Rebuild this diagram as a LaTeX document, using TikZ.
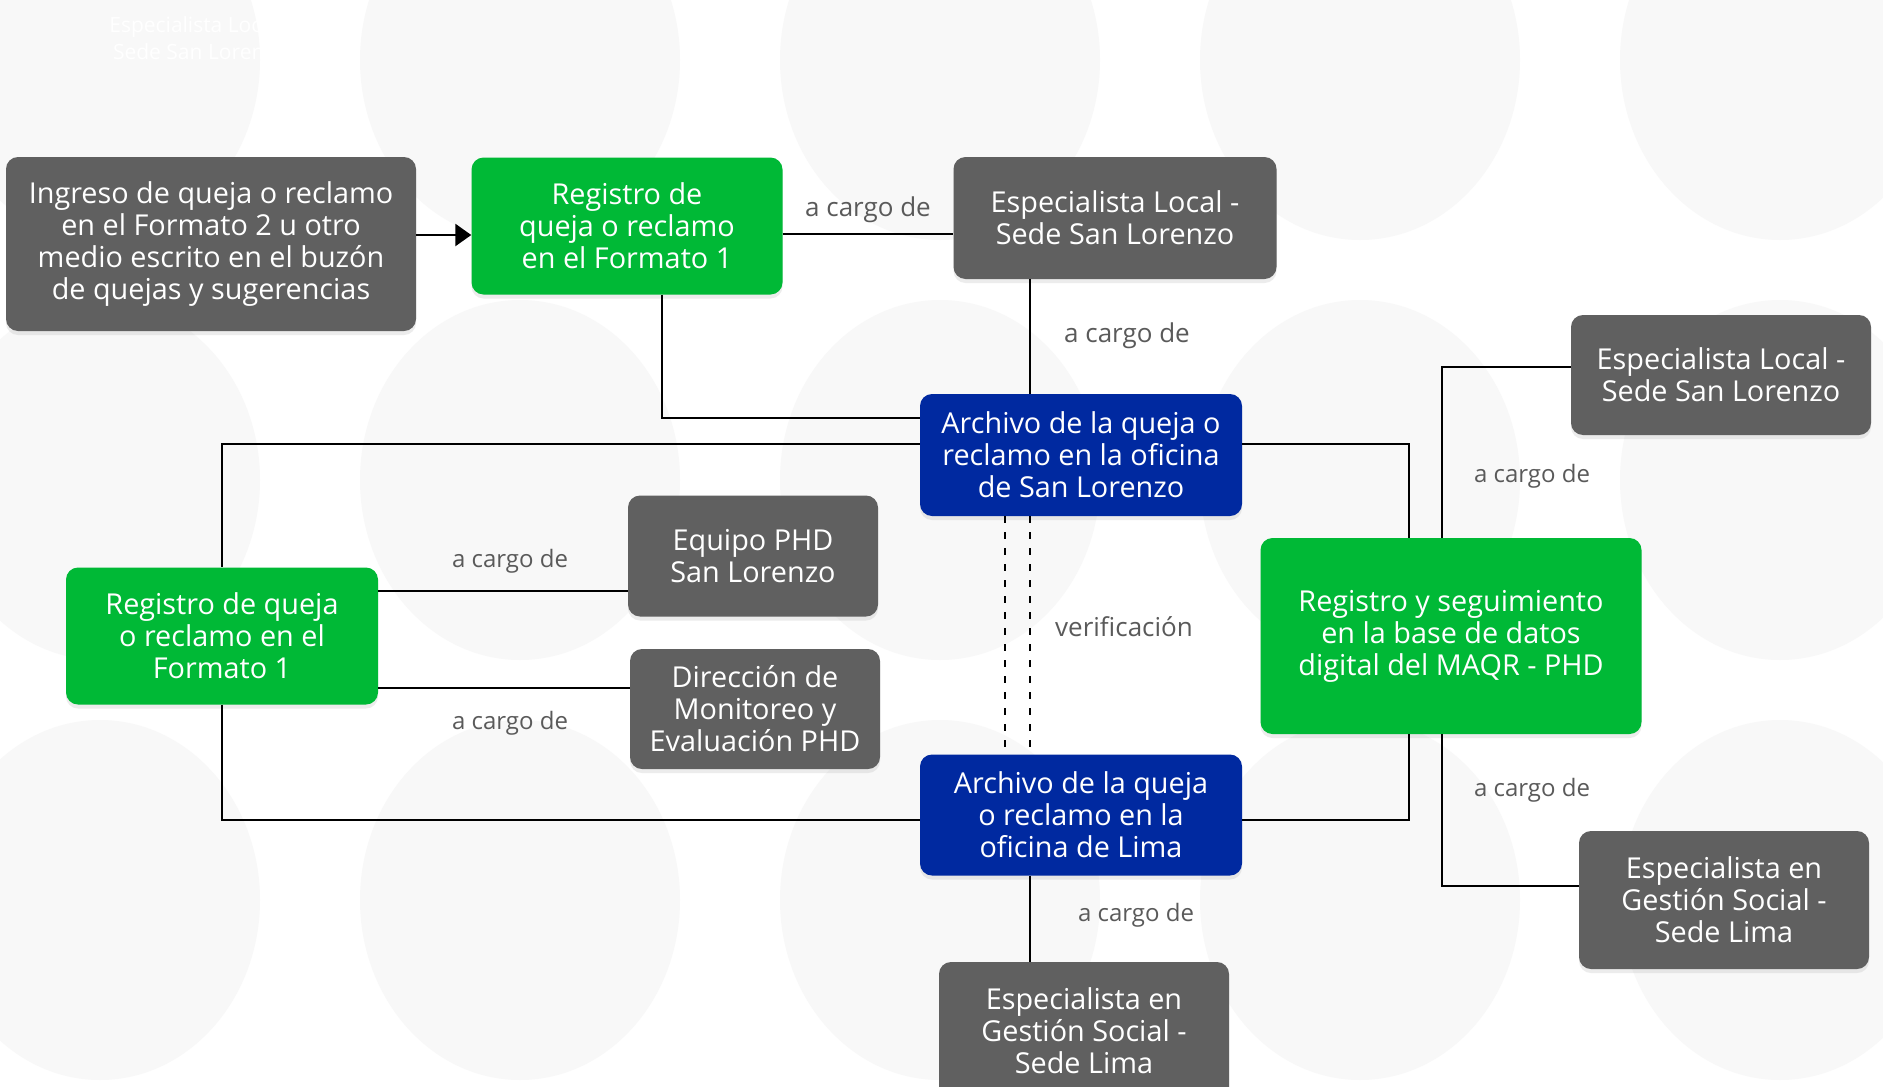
\documentclass[tikz,border=0pt]{standalone}
\usepackage{fontspec}
\setmainfont{Open Sans}
\usetikzlibrary{arrows.meta,shadows}
\definecolor{boxgray}{RGB}{96,96,96}
\definecolor{boxgreen}{RGB}{0,185,54}
\definecolor{boxblue}{RGB}{0,41,160}
\definecolor{labelgray}{RGB}{90,90,90}
\definecolor{bggray}{RGB}{248,248,248}
\begin{document}
\begin{tikzpicture}[x=1pt, y=-1pt,
    box/.style={rounded corners=12pt, text=white, align=center, inner sep=0pt,
        font=\fontsize{28.8}{32}\selectfont,
        drop shadow={shadow xshift=0pt, shadow yshift=-4pt, opacity=0.15}},
    graybox/.style={box, fill=boxgray},
    greenbox/.style={box, fill=boxgreen},
    bluebox/.style={box, fill=boxblue},
    link/.style={line width=2.5pt, black},
    verif/.style={line width=2.8pt, dash pattern=on 7pt off 9pt},
    cargo/.style={text=labelgray, inner sep=0pt, font=\fontsize{24}{28}\selectfont},
    cargobig/.style={cargo, font=\fontsize{26}{30}\selectfont}]
    \useasboundingbox (0,0) rectangle (1883,1087);
    \fill[white] (0,0) rectangle (1883,1087);
    \begin{scope}
    	\clip (0,0) rectangle (1883,1087);
    	\foreach \i in {0,...,4}
    	\foreach \j in {0,...,2}
    	\fill[bggray] (100+420*\i, 60+420*\j) ellipse [x radius=160pt, y radius=180pt];
    	\node[text=white, align=center, font=\fontsize{21}{27}\selectfont] (fantasma) at (200,38) {Especialista Local -\\Sede San Lorenzo};
    \end{scope}

    \node[graybox, minimum width=410pt, minimum height=174pt] (ingreso) at (211,244) {Ingreso de queja o reclamo\\en el Formato 2 u otro\\medio escrito en el buzón\\de quejas y sugerencias};
    \node[greenbox, minimum width=311pt, minimum height=137pt] (registroA) at (627,226) {Registro de\\queja o reclamo\\en el Formato 1};
    \node[graybox, minimum width=323pt, minimum height=122pt] (localA) at (1115,218) {Especialista Local -\\Sede San Lorenzo};
    \node[bluebox, minimum width=322pt, minimum height=122pt] (archivoSL) at (1081,455) {Archivo de la queja o\\reclamo en la oficina\\de San Lorenzo};
    \node[greenbox, minimum width=312pt, minimum height=137pt] (registroB) at (222,636) {Registro de queja\\o reclamo en el\\Formato 1};
    \node[graybox, minimum width=250pt, minimum height=121pt] (equipo) at (753,556) {Equipo PHD\\San Lorenzo};
    \node[graybox, minimum width=250pt, minimum height=120pt] (direccion) at (755,709) {Dirección de\\Monitoreo y\\Evaluación PHD};
    \node[bluebox, minimum width=322pt, minimum height=121pt] (archivoLima) at (1081,815) {Archivo de la queja\\o reclamo en la\\oficina de Lima};
    \node[greenbox, minimum width=381pt, minimum height=196pt] (baseDatos) at (1451,636) {Registro y seguimiento\\en la base de datos\\digital del MAQR - PHD};
    \node[graybox, minimum width=300pt, minimum height=120pt] (localB) at (1721,375) {Especialista Local -\\Sede San Lorenzo};
    \node[graybox, minimum width=290pt, minimum height=138pt] (gestionB) at (1724,900) {Especialista en\\Gestión Social -\\Sede Lima};
    \node[graybox, minimum width=290pt, minimum height=138pt] (gestionA) at (1084,1031) {Especialista en\\Gestión Social -\\Sede Lima};

    \draw[link, -{Triangle[length=16pt, width=22pt]}] (ingreso.east |- 0,235) -- (registroA.west |- 0,235);
    \draw[link] (registroA.east |- 0,234) -- (localA.west |- 0,234);
    \draw[link] (localA.south -| 1030,0) -- (archivoSL.north -| 1030,0);
    \draw[link] (registroA.south -| 662,0) |- (archivoSL.west |- 0,418);
    \draw[link] (archivoSL.west |- 0,444) -| (registroB.north);
    \draw[link] (registroB.south) |- (archivoLima.west |- 0,820);
    \draw[link] (registroB.east |- 0,591) -- (equipo.west |- 0,591);
    \draw[link] (registroB.east |- 0,688) -- (direccion.west |- 0,688);
    \draw[link, verif] (archivoSL.south -| 1005,0) -- (archivoLima.north -| 1005,0);
    \draw[link, verif] (archivoSL.south -| 1030,0) -- (archivoLima.north -| 1030,0);
    \draw[link] (archivoSL.east |- 0,444) -| (baseDatos.north -| 1409,0);
    \draw[link] (archivoLima.east |- 0,820) -| (baseDatos.south -| 1409,0);
    \draw[link] (baseDatos.north -| 1442,0) |- (localB.west |- 0,367);
    \draw[link] (baseDatos.south -| 1442,0) |- (gestionB.west |- 0,886);
    \draw[link] (archivoLima.south -| 1030,0) -- (gestionA.north -| 1030,0);

    \node[cargobig] (cargoA) at (868,210) {a cargo de};
    \node[cargobig] (cargoB) at (1127,336) {a cargo de};
    \node[cargo] (cargoC) at (510,561) {a cargo de};
    \node[cargo] (cargoD) at (510,723) {a cargo de};
    \node[cargobig] (verificacion) at (1124,627) {verificación};
    \node[cargo] (cargoE) at (1532,476) {a cargo de};
    \node[cargo] (cargoF) at (1532,790) {a cargo de};
    \node[cargo] (cargoG) at (1136,915) {a cargo de};
\end{tikzpicture}
\end{document}
